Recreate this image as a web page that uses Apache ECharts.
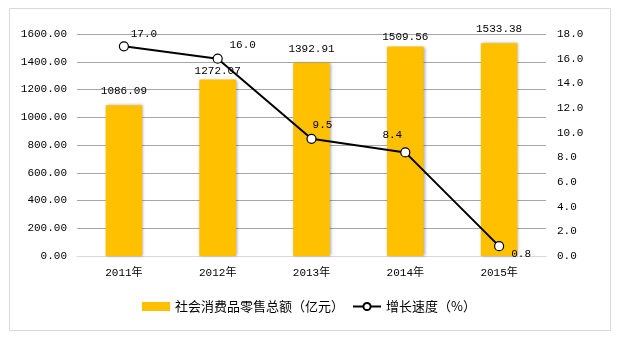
<!DOCTYPE html>
<html>
<head>
<meta charset="utf-8">
<script src="https://cdn.jsdelivr.net/npm/echarts@6/dist/echarts.min.js"></script>
<style>
  html, body { margin: 0; padding: 0; background: #fff; }
  #chart { width: 618px; height: 339px; }
</style>
</head>
<body>
<div id="chart"></div>
<script>
// Retail sales totals and growth rate, 2011–2015
const years = ['2011年', '2012年', '2013年', '2014年', '2015年'];
const retailSales = [1086.09, 1272.07, 1392.91, 1509.56, 1533.38];
const growthRate = [17.0, 16.0, 9.5, 8.4, 0.8];
const leftTicks = { min: 0, max: 1600, interval: 200 };
const rightTicks = { min: 0, max: 18, interval: 2 };

// Label placement tweaks per point (kept apart from the values)
const barLabelOffsets = [[0, -6], [0, 0], [0, -5], [0, -1], [0, -6]];
const lineLabelOffsets = [[20, -12], [25, -14], [11, -14], [-13, -17], [22, 8]];

const mono = '"Liberation Mono", "Noto Sans CJK SC", monospace';
const cjk = '"Noto Sans CJK SC", sans-serif';

const chart = echarts.init(document.getElementById('chart'), null, { renderer: 'canvas' });

chart.setOption({
  backgroundColor: '#fff',
  animation: false,
  graphic: [{
    type: 'rect',
    shape: { x: 9.5, y: 8.5, width: 601, height: 322 },
    style: { fill: 'none', stroke: '#d9d9d9', lineWidth: 1 },
    silent: true
  }],
  grid: { left: 77, right: 72, top: 34, bottom: 83, containLabel: false },
  legend: {
    bottom: 21,
    left: 'center',
    itemGap: 8,
    itemWidth: 28,
    itemHeight: 9,
    textStyle: { fontFamily: cjk, fontSize: 13, color: '#000' },
    data: [
      { name: '社会消费品零售总额（亿元）', icon: 'rect' },
      { name: '增长速度（%）' }
    ]
  },
  xAxis: {
    type: 'category',
    data: years,
    axisLine: { show: true, lineStyle: { color: '#d9d9d9' } },
    axisTick: { show: false },
    axisLabel: { fontFamily: mono, fontSize: 11, color: '#000', margin: 12 }
  },
  yAxis: [{
    type: 'value',
    min: leftTicks.min, max: leftTicks.max, interval: leftTicks.interval,
    axisLine: { show: false },
    axisTick: { show: false },
    axisLabel: {
      fontFamily: mono, fontSize: 11, color: '#000', margin: 10,
      formatter: v => v.toFixed(2)
    },
    splitLine: { lineStyle: { color: '#a6a6a6' } }
  }, {
    type: 'value',
    min: rightTicks.min, max: rightTicks.max, interval: rightTicks.interval,
    axisLine: { show: false },
    axisTick: { show: false },
    axisLabel: {
      fontFamily: mono, fontSize: 11, color: '#000', margin: 11,
      formatter: v => v.toFixed(1)
    },
    splitLine: { show: false }
  }],
  series: [{
    name: '社会消费品零售总额（亿元）',
    type: 'bar',
    yAxisIndex: 0,
    barWidth: '39%',
    itemStyle: {
      color: '#FFC000',
      shadowBlur: 3,
      shadowColor: 'rgba(0,0,0,0.35)',
      shadowOffsetX: 1
    },
    data: retailSales.map((v, i) => ({
      value: v,
      label: { offset: barLabelOffsets[i] }
    })),
    label: {
      show: true,
      position: 'top',
      distance: 3,
      fontFamily: mono, fontSize: 11, color: '#000',
      formatter: p => p.value.toFixed(2)
    }
  }, {
    name: '增长速度（%）',
    type: 'line',
    yAxisIndex: 1,
    symbol: 'circle',
    symbolSize: 9,
    lineStyle: { color: '#000', width: 2 },
    itemStyle: { color: '#fff', borderColor: '#000', borderWidth: 1.2 },
    data: growthRate.map((v, i) => ({
      value: v,
      label: { offset: lineLabelOffsets[i] }
    })),
    label: {
      show: true,
      position: 'inside',
      fontFamily: mono, fontSize: 11, color: '#000',
      formatter: p => p.value.toFixed(1)
    },
    z: 5
  }]
});
</script>
</body>
</html>
